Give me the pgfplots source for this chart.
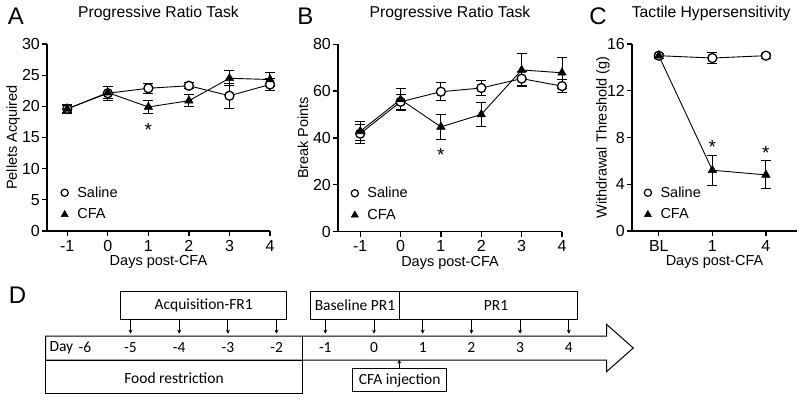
\documentclass[border=0pt]{standalone}
\usepackage{pgfplots}
\pgfplotsset{compat=1.18}
\usepackage{fontspec}
\setmainfont{Liberation Sans}
\newfontfamily\carlito{Carlito}
\usetikzlibrary{arrows.meta}

\tikzset{astnode/.style={font=\fontsize{19}{19}\selectfont, anchor=base}}

\pgfplotsset{
  panel/.style={
    scale only axis,
    anchor=south west,
    axis x line*=bottom, axis y line*=left,
    axis line style={line width=1.3pt, -},
    tick align=outside,
    major tick length=5pt,
    tick style={line width=1.3pt, black},
    tick label style={font=\fontsize{16}{16}\selectfont, inner sep=0.5pt},
    x tick label style={yshift=-3.5pt, text depth=0pt},
    y tick label style={xshift=-1.5pt},
    label style={font=\fontsize{14.5}{15}\selectfont, inner sep=0pt},
    title style={font=\fontsize{15.7}{16}\selectfont, at={(axis description cs:0.5,1.134)}, anchor=center},
    x label style={at={(axis description cs:0.5,-0.166)}, anchor=center},
    /pgf/number format/assume math mode=true,
    ymin=0,
    clip=false,
    legend style={draw=none, fill=none, font=\fontsize{14.5}{15}\selectfont, row sep=6pt, inner sep=0pt, anchor=south west,
      /tikz/every odd column/.append style={column sep=7pt}},
    legend cell align=left,
  },
  sal/.style={black, line width=0.9pt, mark=*, mark size=4.5pt,
    mark options={fill=white, draw=black, line width=1.3pt, solid},
    error bars/y dir=both, error bars/y explicit,
    error bars/error bar style={line width=1pt, black},
    error bars/error mark options={rotate=90, mark size=5pt, line width=1pt, black}},
  cfa/.style={black, line width=0.9pt, mark=triangle*, mark size=4.8pt,
    mark options={fill=black, draw=black, line width=0.6pt, solid},
    error bars/y dir=both, error bars/y explicit,
    error bars/error bar style={line width=1pt, black},
    error bars/error mark options={rotate=90, mark size=5pt, line width=1pt, black}},
  salleg/.style={only marks, mark=*, mark size=3.6pt, mark options={fill=white, draw=black, line width=1.2pt}},
  cfaleg/.style={only marks, mark=triangle*, mark size=4.2pt, mark options={fill=black, draw=black}},
}

\begin{document}
\begin{tikzpicture}
\useasboundingbox (0,0) rectangle (800pt,400pt);

% Panel A
\begin{axis}[panel, at={(47pt,169pt)}, width=223pt, height=187pt,
  xmin=-1.5, xmax=4, ymax=30, xtick={-1,0,1,2,3,4}, ytick={0,5,...,30},
  title={Progressive Ratio Task}, xlabel={Days post-CFA}, ylabel={Pellets Acquired},
  y label style={at={(axis description cs:-0.152,0.5)}, anchor=center},
  legend style={at={(axis description cs:0.062,0.045)}}]
\addlegendimage{salleg}\addlegendentry{Saline}
\addlegendimage{cfaleg}\addlegendentry{CFA}
\addplot[forget plot, sal] coordinates {(-1,19.6) +- (0,0.7) (0,22.1) +- (0,1.1) (1,22.9) +- (0,0.8) (2,23.3) +- (0,0.5) (3,21.7) +- (0,2.0) (4,23.5) +- (0,1.0)};
\addplot[forget plot, cfa] coordinates {(-1,19.6) +- (0,0.6) (0,22.2) +- (0,1.0) (1,19.9) +- (0,1.0) (2,20.9) +- (0,1.0) (3,24.5) +- (0,1.2) (4,24.3) +- (0,1.1)};
\node[astnode] at (axis cs:1,15.2) {*};
\end{axis}

% Panel B
\begin{axis}[panel, at={(338pt,168.5pt)}, width=224pt, height=187.3pt,
  xmin=-1.55, xmax=4, ymax=80, xtick={-1,0,1,2,3,4}, ytick={0,20,...,80},
  title={Progressive Ratio Task}, xlabel={Days post-CFA}, ylabel={Break Points},
  y label style={at={(axis description cs:-0.156,0.5)}, anchor=center},
  legend style={at={(axis description cs:0.058,0.045)}}]
\addlegendimage{salleg}\addlegendentry{Saline}
\addlegendimage{cfaleg}\addlegendentry{CFA}
\addplot[forget plot, sal] coordinates {(-1,41.8) +- (0,4.0) (0,55.4) +- (0,3.3) (1,59.7) +- (0,3.8) (2,61.3) +- (0,3.0) (3,65.3) +- (0,3.0) (4,62.1) +- (0,2.8)};
\addplot[forget plot, cfa] coordinates {(-1,42.8) +- (0,4.0) (0,56.4) +- (0,4.8) (1,44.7) +- (0,5.2) (2,50.0) +- (0,5.3) (3,69.0) +- (0,7.0) (4,67.8) +- (0,6.7)};
\node[astnode] at (axis cs:1,29.8) {*};
\end{axis}

% Panel C
\begin{axis}[panel, at={(632pt,169pt)}, width=165pt, height=187pt,
  xmin=-0.5, xmax=2.58, ymax=16, xtick={0,1,2}, xticklabels={BL,1,4}, ytick={0,4,...,16},
  title={Tactile Hypersensitivity}, xlabel={Days post-CFA}, ylabel={Withdrawal Threshold (g)},
  title style={at={(axis description cs:0.48,1.134)}},
  y label style={at={(axis description cs:-0.176,0.5)}, anchor=center},
  legend style={at={(axis description cs:0.073,0.045)}}]
\addlegendimage{salleg}\addlegendentry{Saline}
\addlegendimage{cfaleg}\addlegendentry{CFA}
\addplot[forget plot, sal] coordinates {(0,15.0) +- (0,0.2) (1,14.8) +- (0,0.5) (2,15.0) +- (0,0.2)};
\addplot[forget plot, cfa] coordinates {(0,15.0) +- (0,0.2) (1,5.2) +- (0,1.3) (2,4.8) +- (0,1.2)};
\node[astnode] at (axis cs:1,6.6) {*};
\node[astnode] at (axis cs:2,6.1) {*};
\end{axis}

% Panel letters
\node[font=\fontsize{24}{24}\selectfont] at (16pt,383.5pt) {A};
\node[font=\fontsize{24}{24}\selectfont] at (305.5pt,384pt) {B};
\node[font=\fontsize{24}{24}\selectfont] at (598pt,384pt) {C};
\node[font=\fontsize{24}{24}\selectfont] at (17.5pt,105pt) {D};

% Panel D diagram (y = 400 - pixel row)
\begin{scope}[x=1pt, y=1pt, line width=1pt, font=\carlito\fontsize{15.5}{16}\selectfont]
  \draw (120.7,108.3) rectangle (286.7,81);
  \node at (203.7,94.7) {Acquisition-FR1};
  \draw (310.7,108.3) rectangle (399.3,81);
  \node at (355,94.7) {Baseline PR1};
  \draw (399.3,108.3) rectangle (577.3,81);
  \node at (496,94.7) {PR1};
  \foreach \d in {-5,-4,-3,-2,-1,0,1,2,3,4} {
    \draw[-{Stealth[length=4pt,width=4pt]}, line width=0.9pt] ({374+48.7*\d},81) -- ({374+48.7*\d},66.3);
  }
  \draw (45.7,64) -- (606.7,64) -- (606.7,75.5) -- (633.3,52) -- (606.7,28.5) -- (606.7,40) -- (45.7,40) -- cycle;
  \draw (45.7,40) rectangle (302.3,7);
  \draw (302.3,64) -- (302.3,40);
  \node at (174,22) {Food restriction};
  \draw (352.7,31.3) rectangle (446.7,8.3);
  \node at (399.7,20) {CFA injection};
  \draw[-{Stealth[length=3.5pt,width=4pt]}, line width=0.9pt] (399.3,31.3) -- (399.3,40);
  \node[anchor=west] at (45.7,52.7) {Day};
  \node at (85,52.7) {-6};
  \foreach \d in {-5,-4,-3,-2,-1,0,1,2,3,4} {
    \node at ({374+48.7*\d},52.7) {\d};
  }
\end{scope}
\end{tikzpicture}
\end{document}
